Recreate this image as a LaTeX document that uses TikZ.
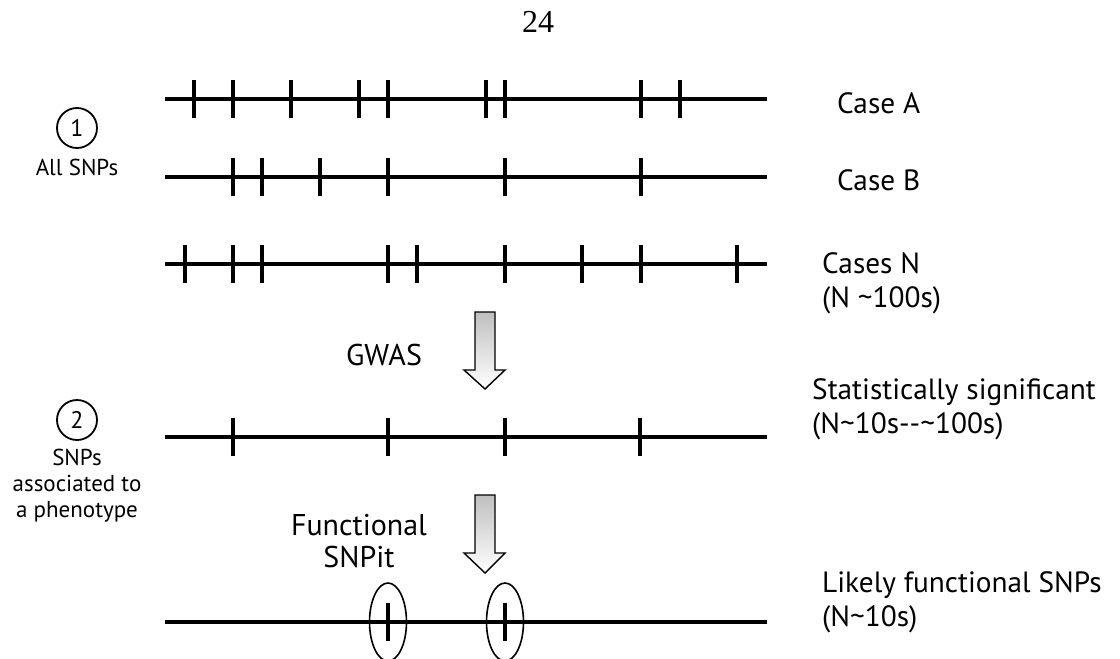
\documentclass[tikz,border=0pt]{standalone}
\usepackage{fontspec}
\setmainfont{PT Sans}
\newfontfamily\pagefont{Liberation Serif}
\usepackage{tikz}

\tikzset{
  track/.style={line width=4.4pt},
  snp/.style={line width=3.2pt},
  ring/.style={draw, circle, line width=1.8pt, minimum size=40pt, inner sep=0pt, font=\fontsize{24}{28}\selectfont},
  funnel/.style={line width=1.4pt, top color=gray!50, bottom color=white},
  hit/.style={line width=1.6pt},
  caselabel/.style={inner sep=0pt, align=left, font=\fontsize{29.3}{34}\selectfont},
  steplabel/.style={inner sep=0pt, align=center, font=\fontsize{30}{32}\selectfont},
  sidelabel/.style={inner sep=0pt, align=center, font=\fontsize{23}{26}\selectfont}
}

\begin{document}
\begin{tikzpicture}[x=1pt,y=1pt,yscale=-1]
\useasboundingbox (0,0) rectangle (1120,659);

% Text Node
\node [inner sep=0pt, font=\pagefont\fontsize{32}{36}\selectfont] (page) at (538,22) {24};

%Straight Lines [case A]
\draw [track] (165,99) -- (767,99);
\foreach \x in {194,233,291,359,388,486,505,641,680}
  \draw [snp] (\x,80) -- (\x,118);
%Straight Lines [case B]
\draw [track] (165,177) -- (767,177);
\foreach \x in {233,262,320,388,505,641}
  \draw [snp] (\x,158) -- (\x,196);
%Straight Lines [cases N]
\draw [track] (165,264) -- (767,264);
\foreach \x in {185,233,262,388,417,505,582,641,737}
  \draw [snp] (\x,245) -- (\x,283);
%Straight Lines [significant]
\draw [track] (165,437) -- (767,437);
\foreach \x in {233,388,505,640}
  \draw [snp] (\x,418) -- (\x,456);
%Straight Lines [functional]
\draw [track] (165,622) -- (767,622);
\foreach \x in {388,505}
  \draw [snp] (\x,603) -- (\x,641);

%Ellipses
\draw [hit] (388,622) ellipse (18.5 and 39);
\draw [hit] (505,622) ellipse (18.5 and 39);

%Shape: Polygon [GWAS arrow]
\draw [funnel] (475,312) -- (495,312) -- (495,370) -- (505,370) -- (485,389) -- (464,370) -- (475,370) -- cycle;
%Shape: Polygon [SNPit arrow]
\draw [funnel] (475,495) -- (495,495) -- (495,553) -- (505,553) -- (485,573) -- (464,553) -- (475,553) -- cycle;

% Text Node
\node [ring] (one) at (77,128) {1};
\node [sidelabel] (all) at (77,167) {All SNPs};
\node [ring] (two) at (77,420) {2};
\node [sidelabel, anchor=north] (assoc) at (77,449) {SNPs\\associated to\\a phenotype};

% Text Node
\node [steplabel] (gwas) at (384,355) {GWAS};
\node [steplabel, anchor=north] (snpit) at (359,514) {Functional\\SNPit};

% Text Node
\node [caselabel, anchor=west] (casea) at (837,103) {Case A};
\node [caselabel, anchor=west] (caseb) at (837,180) {Case B};
\node [caselabel, anchor=north west] (casen) at (822,252) {Cases N\\(N \textasciitilde100s)};
\node [caselabel, anchor=north west] (stat) at (812,378) {Statistically significant\\(N\textasciitilde10s-{}-\textasciitilde100s)};
\node [caselabel, anchor=north west] (likely) at (822,571) {Likely functional SNPs\\(N\textasciitilde10s)};

\end{tikzpicture}
\end{document}
